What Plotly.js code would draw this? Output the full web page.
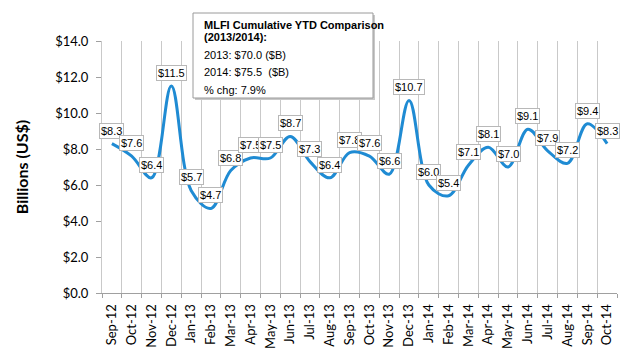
<!DOCTYPE html>
<html>
<head>
<meta charset="utf-8">
<script src="https://cdn.plot.ly/plotly-3.0.1.min.js"></script>
<style>html,body{margin:0;padding:0;background:#fff;}#chart{width:633px;height:350px;}</style>
</head>
<body>
<div id="chart"></div>
<script>
var months = ["Sep-12","Oct-12","Nov-12","Dec-12","Jan-13","Feb-13","Mar-13","Apr-13","May-13","Jun-13","Jul-13","Aug-13","Sep-13","Oct-13","Nov-13","Dec-13","Jan-14","Feb-14","Mar-14","Apr-14","May-14","Jun-14","Jul-14","Aug-14","Sep-14","Oct-14"];
var values = [8.3,7.6,6.4,11.5,5.7,4.7,6.8,7.5,7.5,8.7,7.3,6.4,7.8,7.6,6.6,10.7,6.0,5.4,7.1,8.1,7.0,9.1,7.9,7.2,9.4,8.3];
var yTickVals = [0,2,4,6,8,10,12,14];
var yTickText = ["$0.0","$2.0","$4.0","$6.0","$8.0","$10.0","$12.0","$14.0"];
var boxLines = ["<b>MLFI Cumulative YTD Comparison</b>","<b>(2013/2014):</b>","2013: $70.0 ($B)","2014: $75.5  ($B)","% chg: 7.9%"];

var L = 102, R = 617, T = 41, B = 293;
function px(x){ return (x - L) / (R - L); }
function py(y){ return (B - y) / (B - T); }

var annotations = months.map(function(m, i){
  return {
    x: m, y: values[i], xref: "x", yref: "y",
    text: "$" + values[i].toFixed(1),
    showarrow: false, yanchor: "bottom", xanchor: "center", yshift: 5,
    bgcolor: "#ffffff", bordercolor: "#b8b8b8", borderwidth: 1, borderpad: 1,
    font: {family: "Liberation Sans, Arial, sans-serif", size: 11, color: "#000"}
  };
});
var lineY = [25, 37, 55, 72, 90];
boxLines.forEach(function(t, i){
  annotations.push({
    x: px(202), y: py(lineY[i]), xref: "paper", yref: "paper",
    text: t, showarrow: false, xanchor: "left", yanchor: "middle",
    font: {family: "Liberation Sans, Arial, sans-serif", size: 11, color: "#000"}
  });
});

var shapes = [
  {type: "rect", xref: "paper", yref: "paper", x0: px(195), x1: px(375), y0: py(15), y1: py(100),
   fillcolor: "#c8c8c8", line: {width: 0}},
  {type: "rect", xref: "paper", yref: "paper", x0: px(193), x1: px(373), y0: py(13), y1: py(98),
   fillcolor: "#ffffff", line: {color: "#9a9a9a", width: 1}}
];

var trace = {
  x: months, y: values, type: "scatter", mode: "lines",
  line: {color: "#1f8bd3", width: 3, shape: "spline", smoothing: 1},
  hoverinfo: "skip"
};

var layout = {
  width: 633, height: 350,
  margin: {l: L, r: 633 - R, t: T, b: 350 - B},
  paper_bgcolor: "#fff", plot_bgcolor: "#fff",
  showlegend: false,
  xaxis: {
    type: "category", range: [-0.5, 25.5], tickson: "boundaries",
    showgrid: true, gridcolor: "#c9c9c9", gridwidth: 1,
    showline: true, linecolor: "#a0a0a0", linewidth: 1,
    ticks: "outside", ticklen: 4, tickcolor: "#a0a0a0",
    tickangle: -90, zeroline: false, ticklabelstandoff: 5,
    tickfont: {family: "Lato, Carlito, sans-serif", size: 13, color: "#000"}
  },
  yaxis: {
    range: [0, 14], tickvals: yTickVals, ticktext: yTickText,
    showgrid: false, zeroline: false, showline: true, linecolor: "#c9c9c9",
    ticks: "outside", ticklen: 5, tickcolor: "#a0a0a0", ticklabelstandoff: 5,
    tickfont: {family: "Lato, Carlito, sans-serif", size: 13, color: "#000"},
    title: {text: "<b>Billions (US$)</b>", standoff: 22,
            font: {family: "Lato, Carlito, sans-serif", size: 16, color: "#000"}}
  },
  shapes: shapes,
  annotations: annotations
};

Plotly.newPlot("chart", [trace], layout, {staticPlot: true, displayModeBar: false});
</script>
</body>
</html>
